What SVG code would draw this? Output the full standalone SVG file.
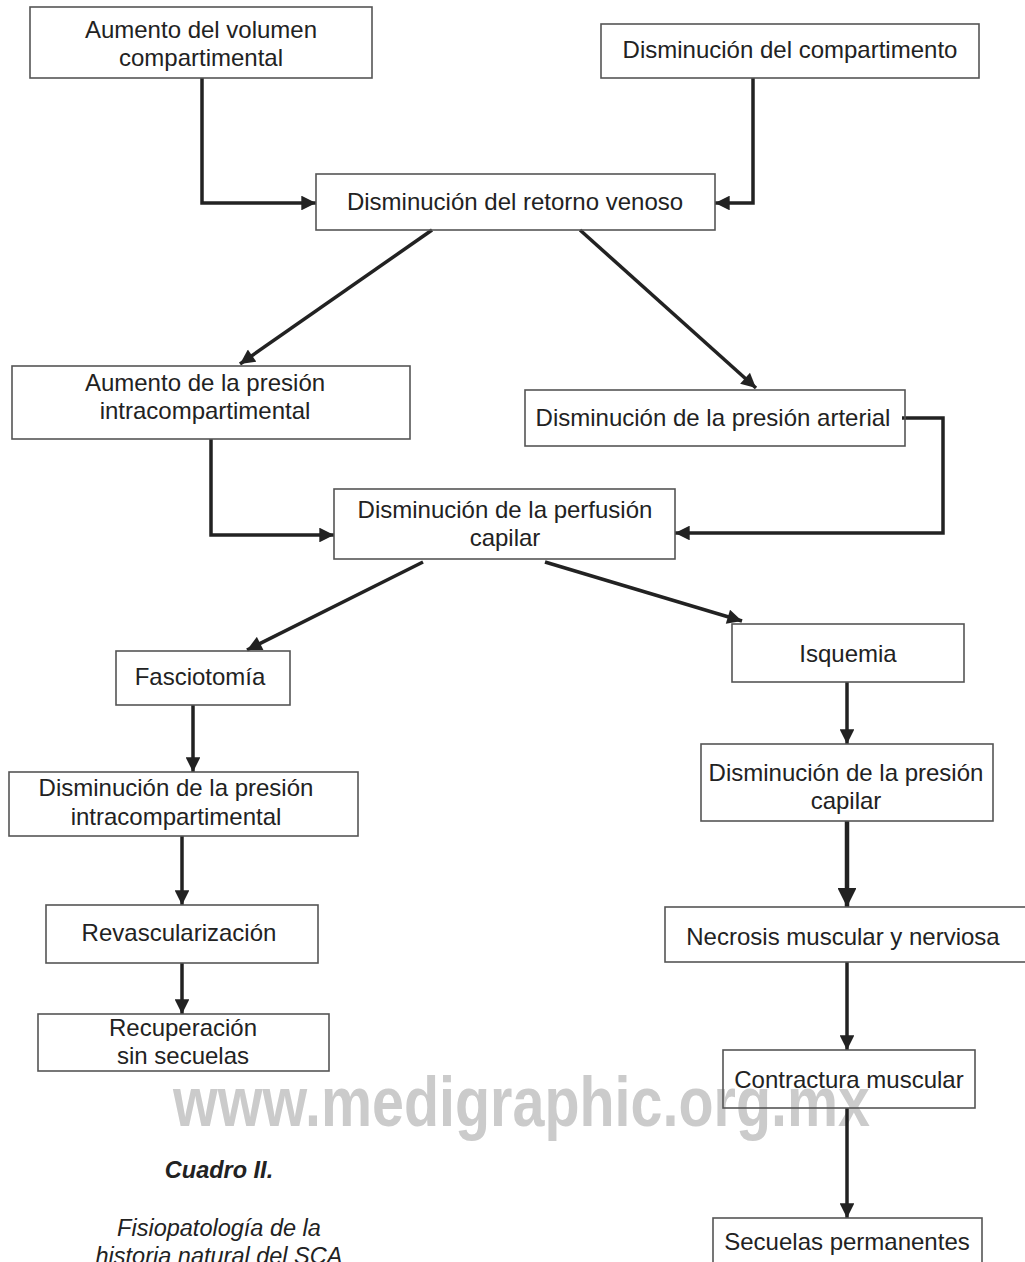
<svg xmlns="http://www.w3.org/2000/svg" width="1025" height="1262" viewBox="0 0 1025 1262">
  <defs>
    <marker id="arrow" viewBox="0 0 10 10" refX="10" refY="5" markerWidth="4.6" markerHeight="4.2" markerUnits="strokeWidth" orient="auto">
      <path d="M0,0 L10,5 L0,10 z" fill="#222"/>
    </marker>
    <style>
      .box { fill: none; stroke: #555; stroke-width: 1.6; }
      .lbl { font-family: "Liberation Sans", Arial, sans-serif; font-size: 24px; fill: #222; text-anchor: middle; }
      .edge { fill: none; stroke: #222; stroke-width: 3.5; stroke-linejoin: miter; marker-end: url(#arrow); }
      .wm { font-family: "Liberation Sans", Arial, sans-serif; font-weight: bold; font-size: 70px; fill: #cbcbcb; }
      .cap { font-family: "Liberation Sans", Arial, sans-serif; font-size: 23.5px; fill: #222; text-anchor: middle; font-style: italic; }
    </style>
  </defs>

  <rect width="1025" height="1262" fill="#fff"/>

  <!-- watermark, sits under boxes, lines and labels -->
  <text class="wm" x="173" y="1126" textLength="697" lengthAdjust="spacingAndGlyphs">www.medigraphic.org.mx</text>

  <!-- connectors -->
  <g id="connectors">
    <path class="edge" d="M202,78 V203 H316"/>
    <path class="edge" d="M753,78 V203 H715"/>
    <path class="edge" d="M432,230 L240,364"/>
    <path class="edge" d="M580,230 L756,388"/>
    <path class="edge" d="M211,439 V535 H334"/>
    <path class="edge" d="M902,418 H943 V533 H675"/>
    <path class="edge" d="M423,562 L247,650"/>
    <path class="edge" d="M545,562 L742,621"/>
    <path class="edge" d="M193,705 V772"/>
    <path class="edge" d="M847,682 V744"/>
    <path class="edge" d="M182,836 V905"/>
    <path class="edge" d="M847,821 V907" style="stroke-width:4.5"/>
    <path class="edge" d="M182,963 V1014"/>
    <path class="edge" d="M847,962 V1050"/>
    <path class="edge" d="M847,1108 V1218"/>
  </g>

  <g id="n1"><rect class="box" x="30" y="7" width="342" height="71"/>
    <text class="lbl" x="201" y="38">Aumento del volumen</text><text class="lbl" x="201" y="66">compartimental</text></g>
  <g id="n2"><rect class="box" x="601" y="24" width="378" height="54"/>
    <text class="lbl" x="790" y="58">Disminución del compartimento</text></g>
  <g id="n3"><rect class="box" x="316" y="174" width="399" height="56"/>
    <text class="lbl" x="515" y="210">Disminución del retorno venoso</text></g>
  <g id="n4"><rect class="box" x="12" y="366" width="398" height="73"/>
    <text class="lbl" x="205" y="391">Aumento de la presión</text><text class="lbl" x="205" y="419">intracompartimental</text></g>
  <g id="n5"><rect class="box" x="525" y="390" width="380" height="56"/>
    <text class="lbl" x="713" y="426">Disminución de la presión arterial</text></g>
  <g id="n6"><rect class="box" x="334" y="489" width="341" height="70"/>
    <text class="lbl" x="505" y="518">Disminución de la perfusión</text><text class="lbl" x="505" y="546">capilar</text></g>
  <g id="n7"><rect class="box" x="116" y="651" width="174" height="54"/>
    <text class="lbl" x="200" y="685">Fasciotomía</text></g>
  <g id="n8"><rect class="box" x="732" y="624" width="232" height="58"/>
    <text class="lbl" x="848" y="662">Isquemia</text></g>
  <g id="n9"><rect class="box" x="9" y="772" width="349" height="64"/>
    <text class="lbl" x="176" y="796">Disminución de la presión</text><text class="lbl" x="176" y="825">intracompartimental</text></g>
  <g id="n10"><rect class="box" x="701" y="744" width="292" height="77"/>
    <text class="lbl" x="846" y="781">Disminución de la presión</text><text class="lbl" x="846" y="809">capilar</text></g>
  <g id="n11"><rect class="box" x="46" y="905" width="272" height="58"/>
    <text class="lbl" x="179" y="941">Revascularización</text></g>
  <g id="n12"><rect class="box" x="665" y="907" width="370" height="55"/>
    <text class="lbl" x="843" y="945">Necrosis muscular y nerviosa</text></g>
  <g id="n13"><rect class="box" x="38" y="1014" width="291" height="57"/>
    <text class="lbl" x="183" y="1036">Recuperación</text><text class="lbl" x="183" y="1064">sin secuelas</text></g>
  <g id="n14"><rect class="box" x="723" y="1050" width="252" height="58"/>
    <text class="lbl" x="849" y="1088">Contractura muscular</text></g>
  <g id="n15"><rect class="box" x="713" y="1218" width="269" height="56"/>
    <text class="lbl" x="847" y="1250">Secuelas permanentes</text></g>

  <!-- caption -->
  <text class="cap" x="219" y="1178" font-weight="bold">Cuadro II.</text>
  <text class="cap" x="219" y="1236">Fisiopatología de la</text>
  <text class="cap" x="219" y="1264">historia natural del SCA</text>
</svg>
